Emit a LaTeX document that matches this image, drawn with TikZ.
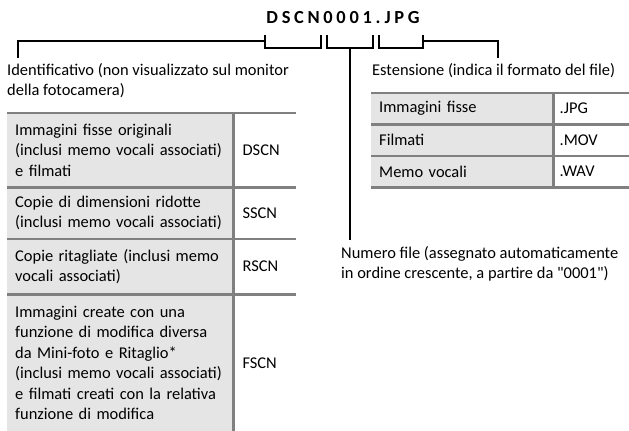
\documentclass[tikz,border=0pt]{standalone}
\usepackage{fontspec}
\newfontfamily\bodyfont{Carlito}
\newfontfamily\namefont{Carlito}[LetterSpace=20]
\usetikzlibrary{positioning}

\begin{document}
\begin{tikzpicture}[x=1bp, y=-1bp,
  font=\bodyfont\fontsize{16.5}{20.5}\selectfont,
  brk/.style={line width=1.7bp},
  sep/.style={draw=black!50, line width=2.6bp},
  lbl/.style={align=left, inner sep=0pt, anchor=north west},
  cellA/.style={fill=black!10, anchor=north west, inner xsep=8bp, inner ysep=0pt,
    text width=210bp, align=left},
  cellB/.style={inner xsep=9bp, inner ysep=0pt, text width=44bp, align=left},
  cellC/.style={fill=black!10, anchor=north west, inner xsep=8bp, inner ysep=0pt,
    text width=166bp, minimum height=31bp, align=left},
  cellD/.style={inner xsep=6bp, inner ysep=0pt, text width=64bp, minimum height=31bp, align=left}]
\useasboundingbox (0,0) rectangle (629,430);

% file name
\node[font=\namefont\fontsize{18.5}{20}\selectfont\bfseries] (fname) at (343,18) {DSCN0001.JPG};

% labels
\node[lbl] (idtxt) at (7,63) {Identificativo (non visualizzato sul monitor\\della fotocamera)};
\node[lbl] (exttxt) at (372,63) {Estensione (indica il formato del file)};
\node[lbl] (numtxt) at (341,246) {Numero file (assegnato automaticamente\\in ordine crescente, a partire da "0001")};
\coordinate (idend) at (18,58);
\coordinate (extend) at (498,58);
\coordinate (numend) at (350,240);

% brackets
\draw[brk] (265,35) |- (321,48) -- (321,35);
\draw[brk] (327,35) |- (373,48) -- (373,35);
\draw[brk] (379,35) |- (423,48) -- (423,35);
\draw[brk] (265,41) -| (idend);
\draw[brk] (423,41) -| (extend);
\draw[brk] (350,48) -- (numend);

% prefix table
\node[cellA, minimum height=74bp] (r1) at (7,113) {Immagini fisse originali\\(inclusi memo vocali associati)\\e filmati};
\node[cellA, minimum height=51bp, below=0pt of r1] (r2) {Copie di dimensioni ridotte\\(inclusi memo vocali associati)};
\node[cellA, minimum height=55bp, below=0pt of r2] (r3) {Copie ritagliate (inclusi memo\\vocali associati)};
\node[cellA, minimum height=137bp, below=0pt of r3] (r4) {Immagini create con una\\funzione di modifica diversa\\da Mini-foto e Ritaglio*\\(inclusi memo vocali associati)\\e filmati creati con la relativa\\funzione di modifica};
\node[cellB, minimum height=74bp, right=0pt of r1] (c1) {DSCN};
\node[cellB, minimum height=51bp, right=0pt of r2] (c2) {SSCN};
\node[cellB, minimum height=55bp, right=0pt of r3] (c3) {RSCN};
\node[cellB, minimum height=137bp, right=0pt of r4] (c4) {FSCN};
\draw[sep] (r1.north west) -- (c1.north east);
\draw[sep] (r2.north west) -- (c2.north east);
\draw[sep] (r3.north west) -- (c3.north east);
\draw[sep] (r4.north west) -- (c4.north east);
\draw[sep] (c1.north west) -- (c4.south west);

% extension table
\node[cellC] (e1) at (371,93) {Immagini fisse};
\node[cellC, below=0pt of e1] (e2) {Filmati};
\node[cellC, below=0pt of e2] (e3) {Memo vocali};
\node[cellD, right=0pt of e1] (f1) {.JPG};
\node[cellD, right=0pt of e2] (f2) {.MOV};
\node[cellD, right=0pt of e3] (f3) {.WAV};
\draw[sep] (e1.north west) -- (f1.north east);
\draw[sep] (e2.north west) -- (f2.north east);
\draw[sep] (e3.north west) -- (f3.north east);
\draw[sep] (e3.south west) -- (f3.south east);
\draw[sep] (f1.north west) -- (f3.south west);
\end{tikzpicture}
\end{document}
